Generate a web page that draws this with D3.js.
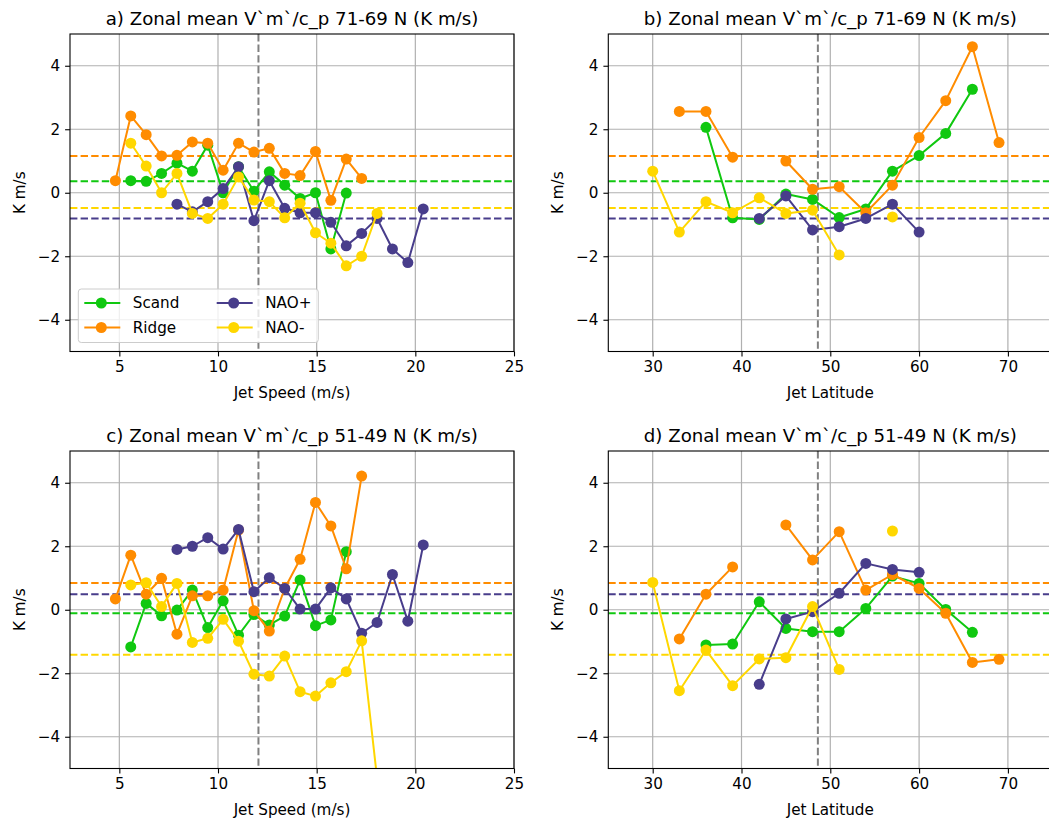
<!DOCTYPE html>
<html>
<head>
<meta charset="utf-8">
<script src="https://cdn.jsdelivr.net/npm/d3@7"></script>
<style>
  body { margin: 0; background: #fff; }
  svg text { font-family: 'DejaVu Sans', sans-serif; fill: #000; }
</style>
</head>
<body>
<script>
'use strict';

// bin centres
const speedBins = [4.8, 5.58, 6.36, 7.14, 7.92, 8.7, 9.48, 10.26, 11.04, 11.82, 12.6,
                   13.38, 14.16, 14.94, 15.72, 16.5, 17.28, 18.06, 18.84, 19.62, 20.4];
const latBins   = [30, 33, 36, 39, 42, 45, 48, 51, 54, 57, 60, 63, 66, 69];

const speedTicks = [5, 10, 15, 20, 25];
const latTicks   = [30, 40, 50, 60, 70];
const yTicks     = [-4, -2, 0, 2, 4];

const seriesNames = ['Scand', 'Ridge', 'NAO+', 'NAO-'];

// 71-69 N, by jet speed
const scandA    = [null, 0.38, 0.36, 0.61, 0.93, 0.68, 1.5, 0.0, 0.82, 0.05, 0.66, 0.24, -0.18, 0.0, -1.77, -0.01, null, null, null, null, null];
const ridgeA    = [0.38, 2.42, 1.83, 1.16, 1.18, 1.6, 1.56, 0.71, 1.56, 1.28, 1.4, 0.61, 0.54, 1.3, -0.24, 1.06, 0.45, null, null, null, null];
const naoPlusA  = [null, null, null, null, -0.36, -0.6, -0.28, 0.13, 0.82, -0.88, 0.38, -0.49, -0.63, -0.63, -0.93, -1.67, -1.28, -0.81, -1.77, -2.2, -0.51];
const naoMinusA = [null, 1.56, 0.84, 0.0, 0.61, -0.65, -0.81, -0.36, 0.5, -0.23, -0.28, -0.79, -0.33, -1.26, -1.59, -2.3, -2.0, -0.65, null, null, null];

// 71-69 N, by jet latitude
const scandB    = [null, null, 2.06, -0.79, -0.84, -0.04, -0.21, -0.78, -0.51, 0.68, 1.17, 1.87, 3.26, null];
const ridgeB    = [null, 2.56, 2.56, 1.12, null, 1.0, 0.11, 0.19, -0.63, 0.24, 1.74, 2.9, 4.6, 1.58];
const naoPlusB  = [null, null, null, null, -0.81, -0.1, -1.17, -1.07, -0.81, -0.36, -1.24, null, null, null];
const naoMinusB = [0.68, -1.24, -0.28, -0.63, -0.16, -0.65, -0.55, -1.96, null, -0.76, null, null, null, null];

// 51-49 N, by jet speed
const scandC    = [null, -1.17, 0.2, -0.19, -0.01, 0.62, -0.56, 0.28, -0.8, -0.15, -0.48, -0.2, 0.94, -0.5, -0.32, 1.83, null, null, null, null, null];
const ridgeC    = [0.34, 1.72, 0.49, 0.99, -0.77, 0.44, 0.44, 0.62, 2.51, -0.03, -0.67, 0.67, 1.59, 3.38, 2.64, 1.29, 4.21, null, null, null, null];
const naoPlusC  = [null, null, null, null, 1.9, 2.0, 2.27, 1.91, 2.53, 0.57, 1.01, 0.67, 0.02, 0.02, 0.69, 0.34, -0.74, -0.4, 1.11, -0.36, 2.04];
const naoMinusC = [null, 0.78, 0.85, 0.1, 0.83, -1.03, -0.9, -0.3, -0.99, -2.03, -2.09, -1.46, -2.58, -2.72, -2.3, -1.95, -0.98, -5.3, null, null, null];

// 51-49 N, by jet latitude
const scandD    = [null, null, -1.11, -1.08, 0.25, -0.59, -0.69, -0.69, 0.04, 1.06, 0.83, 0.01, -0.71, null];
const ridgeD    = [null, -0.92, 0.49, 1.35, null, 2.67, 1.57, 2.46, 0.62, 1.11, 0.67, -0.11, -1.66, -1.56];
const naoPlusD  = [null, null, null, null, -2.35, -0.29, -0.06, 0.52, 1.46, 1.27, 1.18, null, null, null];
const naoMinusD = [0.86, -2.55, -1.27, -2.39, -1.55, -1.51, 0.1, -1.88, null, 2.48, null, null, null, null];

// regime means (dashed lines) and climatological jet position (grey line)
const meansNorth = [0.36, 1.16, -0.81, -0.48];
const meansSouth = [-0.11, 0.84, 0.485, -1.42];
const meanSpeed    = 12.05;
const meanLatitude = 48.6;

const colors = ['#10c810', '#ff8c00', '#483d8b', '#ffd700'];

const canvasW = 1049;
const canvasH = 823;
const panelW  = 444;
const panelH  = 317.5;
const tickLen = 4.9;
const fontTick  = 15.2;
const fontTitle = 18.2;

const panels = [
  { id: 'a', title: 'a) Zonal mean V`m`/c_p 71-69 N (K m/s)', left: 70, top: 34,
    bins: speedBins, xlim: [2.5, 25], xticks: speedTicks, xlabel: 'Jet Speed (m/s)',
    series: [scandA, ridgeA, naoPlusA, naoMinusA], means: meansNorth, vline: meanSpeed, legend: true },
  { id: 'b', title: 'b) Zonal mean V`m`/c_p 71-69 N (K m/s)', left: 608.3, top: 34,
    bins: latBins, xlim: [25, 75], xticks: latTicks, xlabel: 'Jet Latitude',
    series: [scandB, ridgeB, naoPlusB, naoMinusB], means: meansNorth, vline: meanLatitude },
  { id: 'c', title: 'c) Zonal mean V`m`/c_p 51-49 N (K m/s)', left: 70, top: 451,
    bins: speedBins, xlim: [2.5, 25], xticks: speedTicks, xlabel: 'Jet Speed (m/s)',
    series: [scandC, ridgeC, naoPlusC, naoMinusC], means: meansSouth, vline: meanSpeed },
  { id: 'd', title: 'd) Zonal mean V`m`/c_p 51-49 N (K m/s)', left: 608.3, top: 451,
    bins: latBins, xlim: [25, 75], xticks: latTicks, xlabel: 'Jet Latitude',
    series: [scandD, ridgeD, naoPlusD, naoMinusD], means: meansSouth, vline: meanLatitude }
];

const svg = d3.select('body')
              .append('svg')
              .attr('width', canvasW)
              .attr('height', canvasH)
              .attr('viewBox', '0 0 ' + canvasW + ' ' + canvasH);

function drawPanel(p) {
  const x = d3.scaleLinear().domain(p.xlim).range([0, panelW]);
  const y = d3.scaleLinear().domain([-5, 5]).range([panelH, 0]);

  const g = svg.append('g')
               .attr('transform', 'translate(' + p.left + ',' + p.top + ')');

  g.append('clipPath')
   .attr('id', 'clip-' + p.id)
   .append('rect')
   .attr('width', panelW)
   .attr('height', panelH);

  // grid
  g.selectAll('.gx')
   .data(p.xticks)
   .join('line')
   .attr('x1', d => x(d)).attr('x2', d => x(d))
   .attr('y1', 0).attr('y2', panelH)
   .attr('stroke', '#b0b0b0')
   .attr('stroke-width', 1.2);

  g.selectAll('.gy')
   .data(yTicks)
   .join('line')
   .attr('x1', 0).attr('x2', panelW)
   .attr('y1', d => y(d)).attr('y2', d => y(d))
   .attr('stroke', '#b0b0b0')
   .attr('stroke-width', 1.2);

  const plot = g.append('g').attr('clip-path', 'url(#clip-' + p.id + ')');

  // regime means
  plot.selectAll('.mean')
      .data(p.means)
      .join('line')
      .attr('x1', 0)
      .attr('x2', panelW)
      .attr('y1', d => y(d)).attr('y2', d => y(d))
      .attr('stroke', (d, i) => colors[i])
      .attr('stroke-width', 2)
      .attr('stroke-dasharray', '7.4,3.2');

  plot.append('line')
      .attr('x1', x(p.vline)).attr('x2', x(p.vline))
      .attr('y1', 0).attr('y2', panelH)
      .attr('stroke', '#808080')
      .attr('stroke-width', 2)
      .attr('stroke-dasharray', '7.4,3.2');

  const line = d3.line()
                 .defined(d => d.v !== null)
                 .x(d => x(d.x))
                 .y(d => y(d.v));

  p.series.forEach((vals, i) => {
    const pts = vals.map((v, j) => ({ x: p.bins[j], v: v }));

    plot.append('path')
        .datum(pts)
        .attr('d', line)
        .attr('fill', 'none')
        .attr('stroke', colors[i])
        .attr('stroke-width', 2)
        .attr('stroke-linejoin', 'round');

    plot.selectAll('.dot' + i)
        .data(pts.filter(d => d.v !== null))
        .join('circle')
        .attr('cx', d => x(d.x))
        .attr('cy', d => y(d.v))
        .attr('r', 5.5)
        .attr('fill', colors[i]);
  });

  // axes
  const xAxis = g.append('g')
                 .attr('transform', 'translate(0,' + panelH + ')')
                 .call(d3.axisBottom(x).tickValues(p.xticks).tickSize(tickLen).tickPadding(4.9));
  const yAxis = g.append('g')
                 .call(d3.axisLeft(y).tickValues(yTicks).tickSize(tickLen).tickPadding(4.9));

  [xAxis, yAxis].forEach(a => {
    a.select('.domain').remove();
    a.selectAll('line').attr('stroke', '#000').attr('stroke-width', 1.1);
    a.selectAll('text')
     .attr('font-size', fontTick)
     .attr('font-family', 'DejaVu Sans, sans-serif');
  });

  g.append('rect')
   .attr('width', panelW)
   .attr('height', panelH)
   .attr('fill', 'none')
   .attr('stroke', '#000')
   .attr('stroke-width', 1.1);

  g.append('text')
   .attr('x', panelW / 2)
   .attr('y', -9)
   .attr('text-anchor', 'middle')
   .attr('font-size', fontTitle)
   .text(p.title);

  g.append('text')
   .attr('x', panelW / 2)
   .attr('y', panelH + 46.5)
   .attr('text-anchor', 'middle')
   .attr('font-size', fontTick)
   .text(p.xlabel);

  g.append('text')
   .attr('transform', 'translate(-45,' + (panelH / 2) + ') rotate(-90)')
   .attr('text-anchor', 'middle')
   .attr('font-size', fontTick)
   .text('K m/s');

  if (p.legend) drawLegend(g);
}

function drawLegend(g) {
  const lg = g.append('g').attr('transform', 'translate(8.3,255)');

  lg.append('rect')
    .attr('width', 240)
    .attr('height', 53.5)
    .attr('rx', 3)
    .attr('fill', '#fff')
    .attr('fill-opacity', 0.8)
    .attr('stroke', '#cccccc')
    .attr('stroke-width', 1);

  seriesNames.forEach((name, i) => {
    const col = Math.floor(i / 2);
    const row = i % 2;
    const lx = 6 + col * 132.4;
    const ly = 14 + row * 24.5;

    lg.append('line')
      .attr('x1', lx).attr('x2', lx + 36)
      .attr('y1', ly).attr('y2', ly)
      .attr('stroke', colors[i])
      .attr('stroke-width', 2);

    lg.append('circle')
      .attr('cx', lx + 17)
      .attr('cy', ly)
      .attr('r', 5.5)
      .attr('fill', colors[i]);

    lg.append('text')
      .attr('x', lx + 48.5)
      .attr('y', ly)
      .attr('dy', '0.36em')
      .attr('font-size', fontTick)
      .text(name);
  });
}

panels.forEach(drawPanel);
</script>
</body>
</html>
